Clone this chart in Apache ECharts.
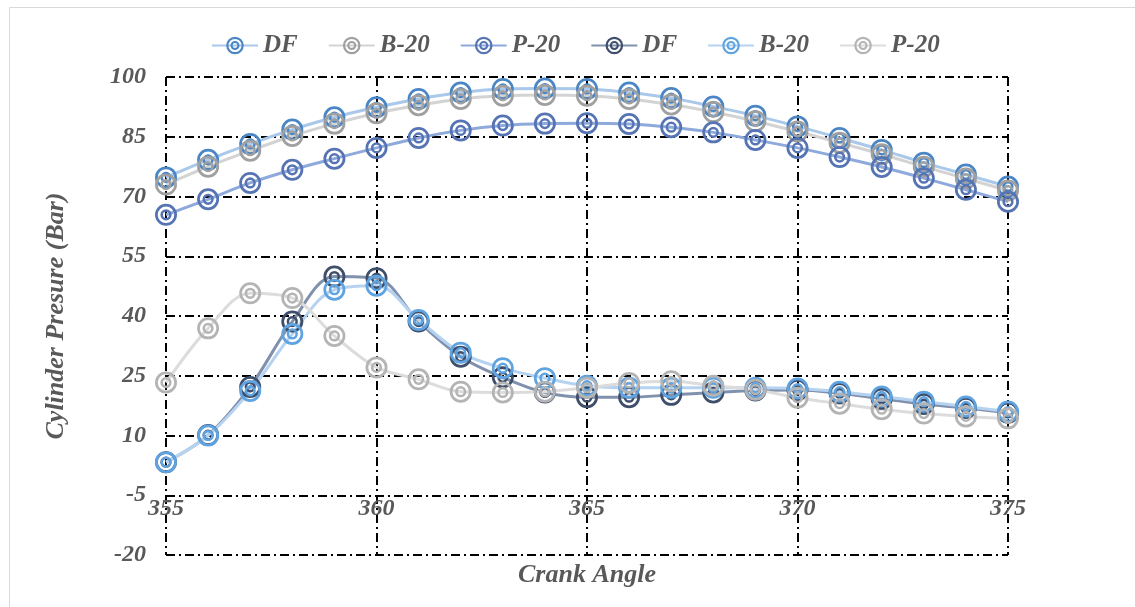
<!DOCTYPE html>
<html>
<head>
<meta charset="utf-8">
<script src="https://cdn.jsdelivr.net/npm/echarts@6/dist/echarts.min.js"></script>
<style>
html,body{margin:0;padding:0;background:#fff;}
#chart{width:1135px;height:607px;}
</style>
</head>
<body>
<div id="chart"></div>
<script>
// ---- data ----
var angles = [355,356,357,358,359,360,361,362,363,364,365,366,367,368,369,370,371,372,373,374,375];
var legendNames = ['DF','B-20','P-20','DF','B-20','P-20'];
var dfUpper  = [74.8,79.2,83.2,86.8,89.9,92.4,94.5,96.1,97.0,97.1,97.0,96.1,94.7,92.6,90.3,87.6,84.7,81.7,78.5,75.5,72.5];
var b20Upper = [73.0,77.5,81.5,85.2,88.3,90.9,92.9,94.5,95.3,95.5,95.3,94.5,93.1,91.2,88.9,86.3,83.5,80.6,77.5,74.5,71.5];
var p20Upper = [65.4,69.3,73.4,76.7,79.5,82.2,84.7,86.6,87.8,88.3,88.4,88.2,87.4,86.1,84.2,82.2,79.9,77.4,74.6,71.7,68.7];
var dfLower  = [3.3,10.1,22.2,38.6,49.9,49.5,38.6,29.8,24.6,20.8,19.6,19.6,20.2,20.8,21.3,21.4,20.6,19.2,17.9,16.9,15.7];
var b20Lower = [3.3,10.0,21.2,35.5,46.6,47.6,39.0,30.8,26.9,24.4,22.5,22.0,22.0,22.0,22.0,21.8,21.0,19.8,18.5,17.3,16.0];
var p20Lower = [23.3,36.9,45.7,44.5,35.0,27.1,24.1,21.0,20.8,21.0,22.0,23.2,23.6,22.5,21.5,19.5,18.0,16.6,15.5,14.8,14.3];
var yTicks = {min:-20, max:100, interval:15};
var xTicks = {min:355, max:375, interval:5};

var seriesValues = [dfUpper, b20Upper, p20Upper, dfLower, b20Lower, p20Lower];
var markerColors = ['#4A86C5','#A0A0A0','#5674B4','#3F4E6B','#5FA3E0','#B4B4B4'];
var lineColors   = ['#A9C8EA','#D3D3D3','#8EA9DB','#8091AE','#B5D3F0','#DCDCDC'];

var ring = 'path://M0,10 A10,10 0 1,1 20,10 A10,10 0 1,1 0,10 Z M2.5,10 A7.5,7.5 0 1,0 17.5,10 A7.5,7.5 0 1,0 2.5,10 Z M4.9,10 A5.1,5.1 0 1,1 15.1,10 A5.1,5.1 0 1,1 4.9,10 Z M7.2,10 A2.8,2.8 0 1,0 12.8,10 A2.8,2.8 0 1,0 7.2,10 Z';

var font = '"Liberation Serif", "Times New Roman", serif';
var txt = {color:'#595959', fontFamily:font, fontStyle:'italic', fontWeight:'bold', fontSize:24};

var series = seriesValues.map(function(vals, i){
  return {
    name: legendNames[i] + '#' + i,
    type: 'line',
    smooth: 0.35,
    symbol: ring,
    symbolSize: 22,
    data: angles.map(function(a, k){ return [a, vals[k]]; }),
    lineStyle: {color: lineColors[i], width: 3},
    itemStyle: {color: markerColors[i], borderWidth: 0},
    emphasis: {disabled: true}
  };
});

var chart = echarts.init(document.getElementById('chart'), null, {renderer:'canvas'});
var dash = [9,4,2,4];
chart.setOption({
  animation: false,
  backgroundColor: '#fff',
  graphic: [{
    type:'rect', left:7, top:5, shape:{width:1126, height:620},
    style:{fill:'none', stroke:'#D9D9D9', lineWidth:1}, silent:true, z:-10
  }],
  legend: {
    data: series.map(function(s){ return {name:s.name}; }),
    formatter: function(n){ return n.split('#')[0]; },
    left: 206, top: 28,
    itemWidth: 46, itemHeight: 22, itemGap: 30,
    textStyle: Object.assign({}, txt, {fontSize:25}),
    selectedMode: false
  },
  grid: {left:166, right:127, top:77, bottom:52, containLabel:false},
  xAxis: {
    type:'value', min:xTicks.min, max:xTicks.max, interval:xTicks.interval,
    name:'Crank Angle', nameLocation:'middle', nameGap:7,
    nameTextStyle: Object.assign({}, txt, {fontSize:26, verticalAlign:'top'}),
    axisLine:{show:false}, axisTick:{show:false},
    axisLabel: Object.assign({}, txt, {margin:-58}),
    splitLine:{show:true, lineStyle:{color:'#000', width:2, type:dash}}
  },
  yAxis: {
    type:'value', min:yTicks.min, max:yTicks.max, interval:yTicks.interval,
    name:'Cylinder Presure (Bar)', nameLocation:'middle', nameGap:97,
    nameTextStyle: Object.assign({}, txt, {fontSize:26}),
    axisLine:{show:false}, axisTick:{show:false},
    axisLabel: Object.assign({}, txt, {margin:20}),
    splitLine:{show:true, lineStyle:{color:'#000', width:2, type:dash}}
  },
  series: series
});
</script>
</body>
</html>
